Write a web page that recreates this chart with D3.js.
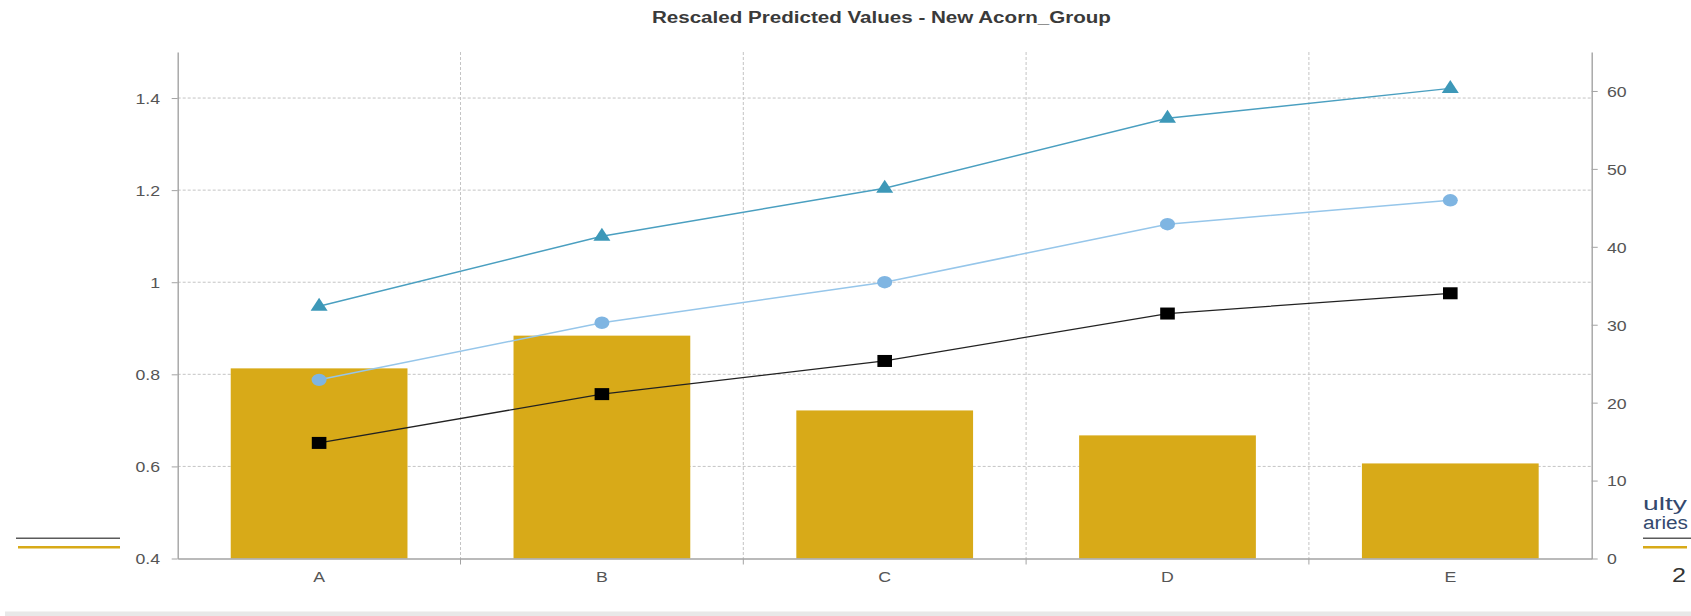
<!DOCTYPE html>
<html>
<head>
<meta charset="utf-8">
<script src="https://cdn.jsdelivr.net/npm/d3@7"></script>
<style>
  html, body { margin: 0; padding: 0; background: #fff; }
  svg { display: block; font-family: "Liberation Sans", Arial, sans-serif; }
</style>
</head>
<body>
<svg id="chart" width="1691" height="616"></svg>
<script>
// Acorn groups and their rescaled predicted values
const categories = ["A", "B", "C", "D", "E"];
const exposure = [24.4, 28.6, 19.0, 15.8, 12.2];          // bars, right axis
const upperValues = [0.948, 1.100, 1.204, 1.356, 1.421];  // triangles
const meanValues = [0.788, 0.912, 1.000, 1.126, 1.178];   // circles
const lowerValues = [0.651, 0.757, 0.829, 0.932, 0.976];  // squares
const leftTicks = [0.4, 0.6, 0.8, 1.0, 1.2, 1.4];
const rightTicks = [0, 10, 20, 30, 40, 50, 60];
const titleText = "Rescaled Predicted Values - New Acorn_Group";

const svg = d3.select("#chart");
const plotLeft = 177.7, plotRight = 1591.7, plotTop = 52, plotBottom = 558.5;
const stretch = 1.18;

const x = d3.scaleBand().domain(categories).range([plotLeft, plotRight]).padding(0);
const yL = d3.scaleLinear().domain([0.4, 1.5]).range([plotBottom, plotTop]);
const yR = d3.scaleLinear().domain([0, 65]).range([plotBottom, plotTop]);
const barW = x.bandwidth() * 0.625;

const axisColor = "#a3a3a3";
const textColor = "#555";

// faint strip along the bottom of the page
svg.append("rect").attr("x", 5).attr("y", 611.5).attr("width", 1686).attr("height", 5).attr("fill", "#e8e8e8");

// page fragments around the chart
svg.append("line").attr("x1", 16).attr("x2", 120).attr("y1", 538.3).attr("y2", 538.3)
  .attr("stroke", "#5a5a5a").attr("stroke-width", 1.4);
svg.append("line").attr("x1", 18).attr("x2", 120).attr("y1", 547.3).attr("y2", 547.3)
  .attr("stroke", "#d8aa18").attr("stroke-width", 2.6);
svg.append("line").attr("x1", 1643).attr("x2", 1691).attr("y1", 538.3).attr("y2", 538.3)
  .attr("stroke", "#5a5a5a").attr("stroke-width", 1.4);
svg.append("line").attr("x1", 1643).attr("x2", 1687).attr("y1", 547.3).attr("y2", 547.3)
  .attr("stroke", "#d8aa18").attr("stroke-width", 2.6);
svg.append("text").attr("x", 1643).attr("y", 510).text("ulty")
  .attr("font-size", 18).attr("fill", "#34496e")
  .attr("textLength", 44).attr("lengthAdjust", "spacingAndGlyphs");
svg.append("text").attr("x", 1643).attr("y", 529).text("aries")
  .attr("font-size", 18).attr("fill", "#34496e")
  .attr("textLength", 45).attr("lengthAdjust", "spacingAndGlyphs");
svg.append("text").attr("x", 1672).attr("y", 582).text("2")
  .attr("font-size", 20).attr("fill", "#333")
  .attr("textLength", 14).attr("lengthAdjust", "spacingAndGlyphs");

// title
svg.append("text").attr("x", 881.4).attr("y", 23).attr("text-anchor", "middle")
  .attr("font-size", 16).attr("font-weight", "bold").attr("fill", "#3a3a3a")
  .attr("textLength", 459).attr("lengthAdjust", "spacingAndGlyphs")
  .text(titleText);

// dashed grid
const grid = svg.append("g").attr("stroke", "#c4c4c4").attr("stroke-width", 1).attr("stroke-dasharray", "3,2");
grid.selectAll("line.h").data(leftTicks.filter(d => d > 0.4)).join("line")
  .attr("x1", plotLeft).attr("x2", plotRight).attr("y1", d => yL(d)).attr("y2", d => yL(d));
grid.selectAll("line.v").data(categories.slice(1)).join("line")
  .attr("x1", d => x(d)).attr("x2", d => x(d)).attr("y1", plotTop).attr("y2", plotBottom);

// bars
svg.append("g").selectAll("rect").data(categories).join("rect")
  .attr("x", d => x(d) + (x.bandwidth() - barW) / 2)
  .attr("width", barW)
  .attr("y", (d, i) => yR(exposure[i]))
  .attr("height", (d, i) => yR(0) - yR(exposure[i]))
  .attr("fill", "#d8aa18");

const cx = d => x(d) + x.bandwidth() / 2;
const line = vals => d3.line().x((d, i) => cx(categories[i])).y(d => yL(d))(vals);

// lines
svg.append("path").attr("d", line(upperValues)).attr("fill", "none")
  .attr("stroke", "#4a9fc0").attr("stroke-width", 1.5);
svg.append("path").attr("d", line(meanValues)).attr("fill", "none")
  .attr("stroke", "#96c6ea").attr("stroke-width", 1.5);
svg.append("path").attr("d", line(lowerValues)).attr("fill", "none")
  .attr("stroke", "#222").attr("stroke-width", 1.3);

// markers
svg.append("g").selectAll("path").data(upperValues).join("path")
  .attr("transform", (d, i) => `translate(${cx(categories[i])},${yL(d)})`)
  .attr("d", "M0,-8.5L8.5,4.5L-8.5,4.5Z")
  .attr("fill", "#3d98b8");
svg.append("g").selectAll("ellipse").data(meanValues).join("ellipse")
  .attr("cx", (d, i) => cx(categories[i])).attr("cy", d => yL(d))
  .attr("rx", 7.5).attr("ry", 6.2).attr("fill", "#7fb5e2");
svg.append("g").selectAll("rect").data(lowerValues).join("rect")
  .attr("x", (d, i) => cx(categories[i]) - 7.3).attr("y", d => yL(d) - 6)
  .attr("width", 14.6).attr("height", 12).attr("fill", "#000");

// axes
function styleAxis(g) {
  g.selectAll(".domain").attr("stroke", axisColor).attr("stroke-width", 1.4);
  g.selectAll(".tick line").attr("stroke", axisColor).attr("stroke-width", 1);
  g.selectAll(".tick text").attr("fill", textColor).attr("font-size", 15)
    .attr("font-family", "Liberation Sans, Arial, sans-serif");
}

const gL = svg.append("g").attr("transform", `translate(${plotLeft},0)`)
  .call(d3.axisLeft(yL).tickValues(leftTicks).tickFormat(d3.format("~g")).tickSize(6).tickSizeOuter(0).tickPadding(9));
styleAxis(gL);
gL.selectAll(".tick text").attr("transform", `scale(${stretch},1)`).attr("dy", "0.36em");

const gR = svg.append("g").attr("transform", `translate(${plotRight},0)`)
  .call(d3.axisRight(yR).tickValues(rightTicks).tickSize(6).tickSizeOuter(0).tickPadding(7));
styleAxis(gR);
gR.selectAll(".tick text").attr("transform", `scale(${stretch},1)`).attr("dy", "0.36em");

const gB = svg.append("g").attr("transform", `translate(0,${plotBottom})`)
  .call(d3.axisBottom(x).tickSize(0).tickSizeOuter(0).tickPadding(12));
styleAxis(gB);
gB.selectAll(".tick text").attr("dy", "0.76em")
  .attr("transform", `scale(${stretch},1)`).attr("x", 0);
gB.selectAll(".tick").attr("transform", d => `translate(${cx(d)},0)`);
// tick marks on the boundaries between groups
gB.selectAll("line.sep").data(categories.slice(1)).join("line")
  .attr("class", "sep").attr("x1", d => x(d)).attr("x2", d => x(d))
  .attr("y1", 0).attr("y2", 6).attr("stroke", axisColor).attr("stroke-width", 1);
</script>
</body>
</html>
